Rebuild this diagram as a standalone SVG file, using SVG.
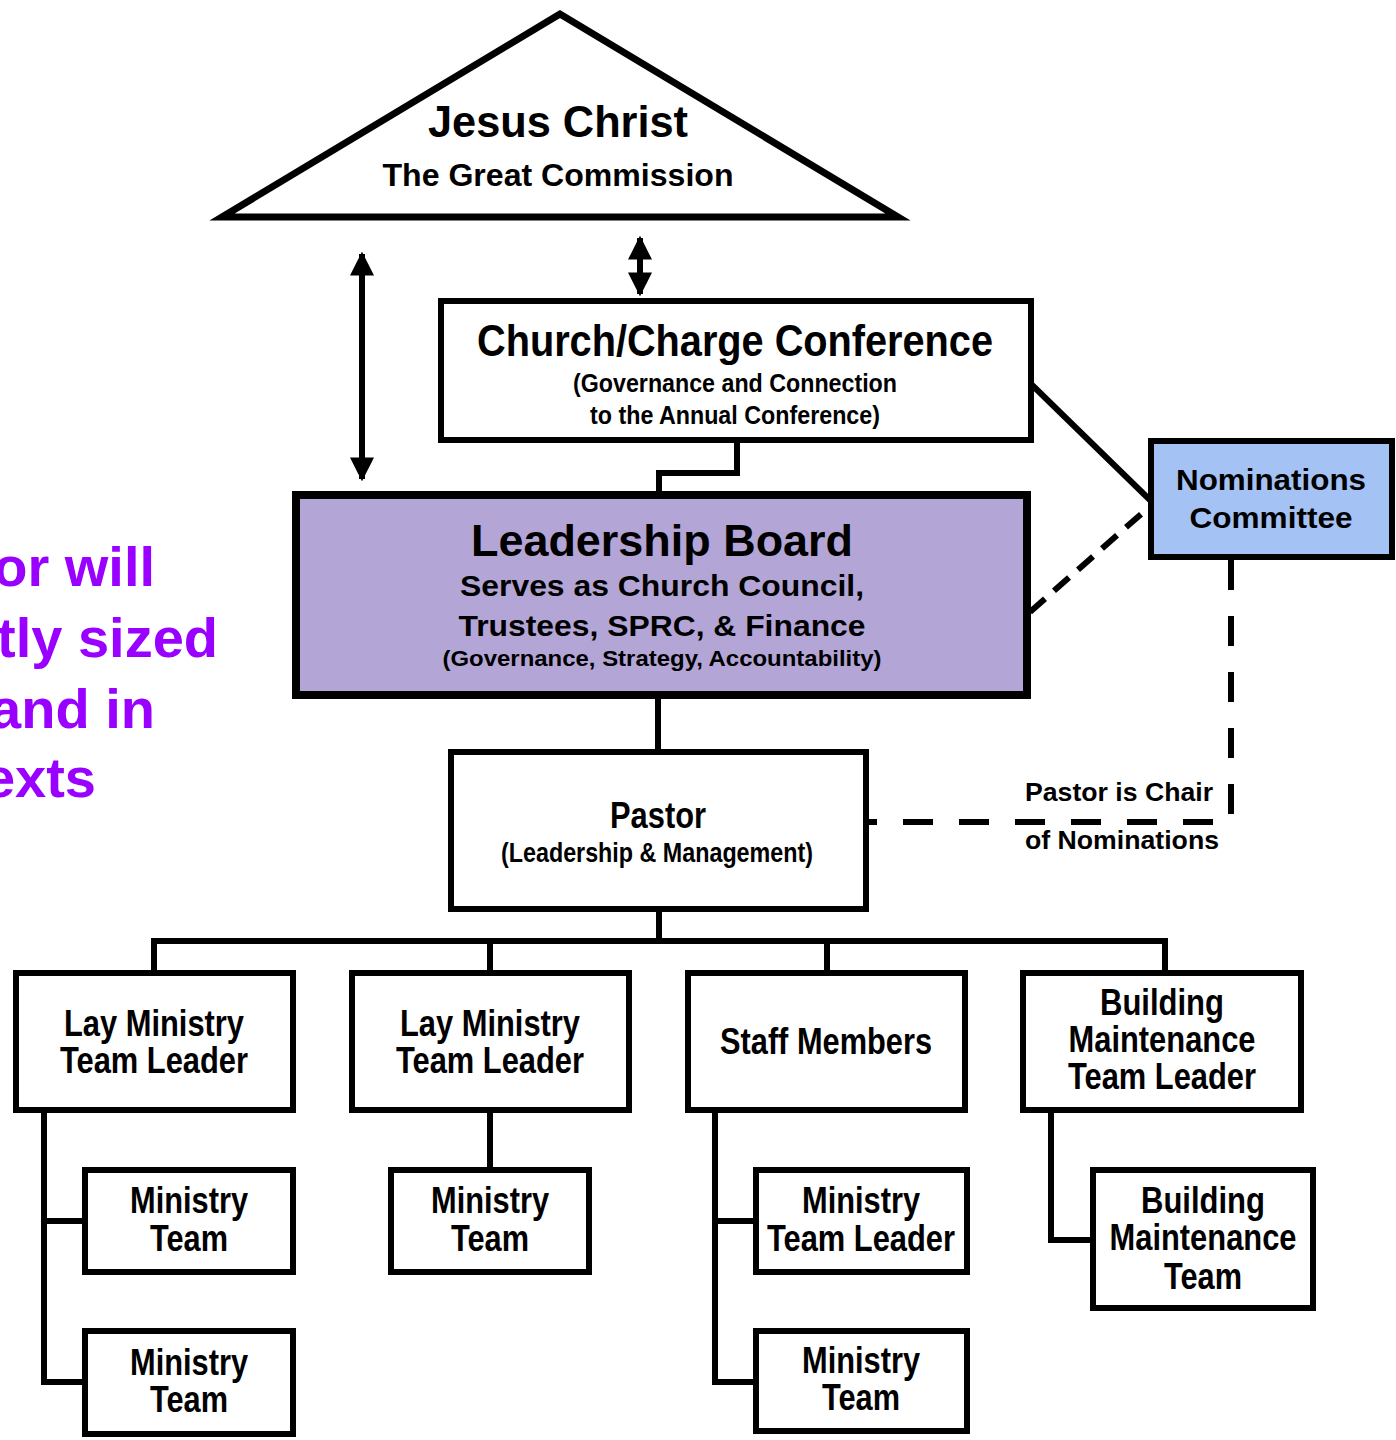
<svg xmlns="http://www.w3.org/2000/svg" width="1396" height="1440" viewBox="0 0 1396 1440">
<style>
.box{fill:#fff;stroke:#000;stroke-width:6}
.ln{fill:none;stroke:#000;stroke-width:6}
.dash{fill:none;stroke:#000;stroke-width:6;stroke-dasharray:30 26}
.dash2{fill:none;stroke:#000;stroke-width:6;stroke-dasharray:20 12}
.t{font-family:"Liberation Sans Narrow","Liberation Sans",Arial,sans-serif;font-weight:bold;fill:#000;text-anchor:middle}
.a{font-family:"Liberation Sans",Arial,sans-serif;font-weight:bold;fill:#000;text-anchor:middle}
.s{font-family:"Liberation Sans",Arial,sans-serif;font-weight:bold;fill:#000;text-anchor:start}
.p{font-family:"Liberation Sans",Arial,sans-serif;font-weight:bold;fill:#9900ff;font-size:56px;text-anchor:end}
</style>
<defs>
<marker id="ah" viewBox="0 0 10 10" refX="9" refY="5" markerWidth="4" markerHeight="4.4" orient="auto-start-reverse" markerUnits="strokeWidth">
<path d="M0,0 L10,5 L0,10 z" fill="#000"/>
</marker>
</defs>

<g id="side-text">
<text class="p" x="155" y="586">or will</text>
<text class="p" x="218" y="657">tly sized</text>
<text class="p" x="155" y="728">and in</text>
<text class="p" x="96" y="797">exts</text>
</g>

<g id="connectors">
<line class="ln" x1="640" y1="238" x2="640" y2="294" marker-start="url(#ah)" marker-end="url(#ah)"/>
<line class="ln" x1="362" y1="254" x2="362" y2="479" marker-start="url(#ah)" marker-end="url(#ah)"/>
<path class="ln" d="M737,443 V473 H659 V493"/>
<line class="ln" x1="1030" y1="383" x2="1151" y2="501"/>
<line class="dash2" x1="1030" y1="612" x2="1148" y2="508"/>
<path class="dash" d="M1231,560 V822 H868"/>
<line class="ln" x1="658" y1="699" x2="658" y2="752"/>
<path class="ln" d="M659,912 V941"/>
<path class="ln" d="M154,973 V941 H1165 V973 M490,941 V973 M827,941 V973"/>
<path class="ln" d="M44,1112 V1382 H85 M44,1221 H85"/>
<path class="ln" d="M490,1112 V1170"/>
<path class="ln" d="M715,1112 V1382 H756 M715,1221 H756"/>
<path class="ln" d="M1051,1112 V1240 H1093"/>
</g>

<g id="jesus">
<polygon points="560,14 222,217 898,217" fill="#fff" stroke="#000" stroke-width="7" stroke-linejoin="miter"/>
<text class="a" x="558" y="137" font-size="44" textLength="260" lengthAdjust="spacingAndGlyphs">Jesus Christ</text>
<text class="a" x="558" y="186" font-size="31" textLength="351" lengthAdjust="spacingAndGlyphs">The Great Commission</text>
</g>

<g id="conference">
<rect class="box" x="441" y="301" width="590" height="139"/>
<text class="t" x="735" y="356" font-size="44" textLength="516" lengthAdjust="spacingAndGlyphs">Church/Charge Conference</text>
<text class="t" x="735" y="392" font-size="26" textLength="324" lengthAdjust="spacingAndGlyphs">(Governance and Connection</text>
<text class="t" x="735" y="424" font-size="26" textLength="290" lengthAdjust="spacingAndGlyphs">to the Annual Conference)</text>
</g>

<g id="leadership-board">
<rect x="296" y="495" width="731" height="200" fill="#b3a6d6" stroke="#000" stroke-width="8"/>
<text class="a" x="662" y="556" font-size="45" textLength="382" lengthAdjust="spacingAndGlyphs">Leadership Board</text>
<text class="a" x="662" y="596" font-size="30" textLength="404" lengthAdjust="spacingAndGlyphs">Serves as Church Council,</text>
<text class="a" x="662" y="636" font-size="30" textLength="407" lengthAdjust="spacingAndGlyphs">Trustees, SPRC, &amp; Finance</text>
<text class="a" x="662" y="666" font-size="22" textLength="439" lengthAdjust="spacingAndGlyphs">(Governance, Strategy, Accountability)</text>
</g>

<g id="nominations">
<rect x="1151" y="441" width="241" height="116" fill="#a4c2f4" stroke="#000" stroke-width="6"/>
<text class="a" x="1271" y="490" font-size="30" textLength="190" lengthAdjust="spacingAndGlyphs">Nominations</text>
<text class="a" x="1271" y="528" font-size="30" textLength="163" lengthAdjust="spacingAndGlyphs">Committee</text>
</g>

<g id="chair-label">
<text class="s" x="1025" y="801" font-size="25" textLength="188" lengthAdjust="spacingAndGlyphs">Pastor is Chair</text>
<text class="s" x="1025" y="849" font-size="25" textLength="194" lengthAdjust="spacingAndGlyphs">of Nominations</text>
</g>

<g id="pastor">
<rect class="box" x="451" y="752" width="415" height="157"/>
<text class="t" x="658" y="828" font-size="36" textLength="96" lengthAdjust="spacingAndGlyphs">Pastor</text>
<text class="t" x="657" y="862" font-size="27" textLength="312" lengthAdjust="spacingAndGlyphs">(Leadership &amp; Management)</text>
</g>

<g id="lay-leader-1">
<rect class="box" x="16" y="973" width="277" height="137"/>
<text class="t" x="154" y="1036" font-size="37" textLength="180" lengthAdjust="spacingAndGlyphs">Lay Ministry</text>
<text class="t" x="154" y="1073" font-size="37" textLength="188" lengthAdjust="spacingAndGlyphs">Team Leader</text>
</g>
<g id="lay-leader-2">
<rect class="box" x="352" y="973" width="277" height="137"/>
<text class="t" x="490" y="1036" font-size="37" textLength="180" lengthAdjust="spacingAndGlyphs">Lay Ministry</text>
<text class="t" x="490" y="1073" font-size="37" textLength="188" lengthAdjust="spacingAndGlyphs">Team Leader</text>
</g>
<g id="staff">
<rect class="box" x="688" y="973" width="277" height="137"/>
<text class="t" x="826" y="1054" font-size="37" textLength="212" lengthAdjust="spacingAndGlyphs">Staff Members</text>
</g>
<g id="building-leader">
<rect class="box" x="1023" y="973" width="278" height="137"/>
<text class="t" x="1162" y="1015" font-size="37" textLength="124" lengthAdjust="spacingAndGlyphs">Building</text>
<text class="t" x="1162" y="1052" font-size="37" textLength="187" lengthAdjust="spacingAndGlyphs">Maintenance</text>
<text class="t" x="1162" y="1089" font-size="37" textLength="188" lengthAdjust="spacingAndGlyphs">Team Leader</text>
</g>

<g id="ministry-team-1a">
<rect class="box" x="85" y="1170" width="208" height="102"/>
<text class="t" x="189" y="1213" font-size="37" textLength="118" lengthAdjust="spacingAndGlyphs">Ministry</text>
<text class="t" x="189" y="1251" font-size="37" textLength="78" lengthAdjust="spacingAndGlyphs">Team</text>
</g>
<g id="ministry-team-1b">
<rect class="box" x="85" y="1331" width="208" height="103"/>
<text class="t" x="189" y="1375" font-size="37" textLength="118" lengthAdjust="spacingAndGlyphs">Ministry</text>
<text class="t" x="189" y="1412" font-size="37" textLength="78" lengthAdjust="spacingAndGlyphs">Team</text>
</g>
<g id="ministry-team-2">
<rect class="box" x="391" y="1170" width="198" height="102"/>
<text class="t" x="490" y="1213" font-size="37" textLength="118" lengthAdjust="spacingAndGlyphs">Ministry</text>
<text class="t" x="490" y="1251" font-size="37" textLength="78" lengthAdjust="spacingAndGlyphs">Team</text>
</g>
<g id="ministry-team-leader-3">
<rect class="box" x="756" y="1170" width="211" height="102"/>
<text class="t" x="861" y="1213" font-size="37" textLength="118" lengthAdjust="spacingAndGlyphs">Ministry</text>
<text class="t" x="861" y="1251" font-size="37" textLength="188" lengthAdjust="spacingAndGlyphs">Team Leader</text>
</g>
<g id="ministry-team-3">
<rect class="box" x="756" y="1331" width="211" height="100"/>
<text class="t" x="861" y="1373" font-size="37" textLength="118" lengthAdjust="spacingAndGlyphs">Ministry</text>
<text class="t" x="861" y="1410" font-size="37" textLength="78" lengthAdjust="spacingAndGlyphs">Team</text>
</g>
<g id="building-team">
<rect class="box" x="1093" y="1170" width="220" height="138"/>
<text class="t" x="1203" y="1213" font-size="37" textLength="124" lengthAdjust="spacingAndGlyphs">Building</text>
<text class="t" x="1203" y="1250" font-size="37" textLength="187" lengthAdjust="spacingAndGlyphs">Maintenance</text>
<text class="t" x="1203" y="1289" font-size="37" textLength="78" lengthAdjust="spacingAndGlyphs">Team</text>
</g>
</svg>
